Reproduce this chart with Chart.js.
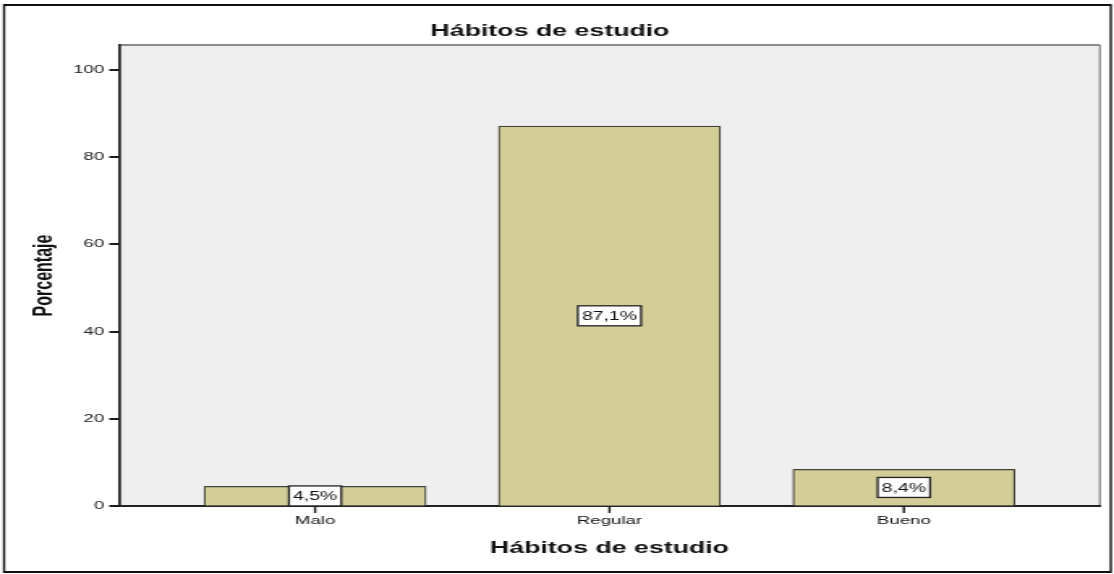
<!DOCTYPE html>
<html>
<head>
<meta charset="utf-8">
<script src="https://cdn.jsdelivr.net/npm/chart.js@4.4.0/dist/chart.umd.min.js"></script>
<style>
  body { margin: 0; background: #fff; overflow: hidden; }
  /* the reference is an SPSS chart stretched sideways, so draw narrow and stretch */
  #myChart { display: block; transform: scaleX(1.6192); transform-origin: 0 0; }
</style>
</head>
<body>
<canvas id="myChart" width="688" height="574"></canvas>
<script>
const categories = ["Malo", "Regular", "Bueno"];
const percentages = [4.5, 87.1, 8.4];
const yTicks = [0, 20, 40, 60, 80, 100];
const chartTitle = "Hábitos de estudio";
const xTitle = "Hábitos de estudio";
const yTitle = "Porcentaje";

const font = "'Liberation Sans', Arial, sans-serif";

// grey plot area + lighter top/right edges, black frame round the whole picture
const backdrop = {
  id: "backdrop",
  beforeDraw(chart) {
    const { ctx, chartArea: a } = chart;
    ctx.save();
    ctx.fillStyle = "#efefef";
    ctx.fillRect(a.left, a.top, a.right - a.left, a.bottom - a.top);
    ctx.strokeStyle = "#8a8a8a";
    ctx.lineWidth = 2;
    ctx.beginPath();
    ctx.moveTo(a.left, a.top);
    ctx.lineTo(a.right, a.top);
    ctx.stroke();
    ctx.lineWidth = 1.3;
    ctx.beginPath();
    ctx.moveTo(a.right, a.top);
    ctx.lineTo(a.right, a.bottom);
    ctx.stroke();
    ctx.strokeStyle = "#111";
    ctx.lineWidth = 2;
    ctx.beginPath();
    ctx.moveTo(2.5, 5);
    ctx.lineTo(686, 5);
    ctx.moveTo(2.5, 572);
    ctx.lineTo(686, 572);
    ctx.stroke();
    ctx.lineWidth = 1.4;
    ctx.beginPath();
    ctx.moveTo(2.5, 4);
    ctx.lineTo(2.5, 573);
    ctx.moveTo(686, 4);
    ctx.lineTo(686, 573);
    ctx.stroke();
    ctx.restore();
  }
};

// short tick marks outside the axes, placed through the scales
const tickMarks = {
  id: "tickMarks",
  afterDatasetsDraw(chart) {
    const { ctx, scales } = chart;
    const a = chart.chartArea;
    ctx.save();
    ctx.fillStyle = "#1a1a1a";
    yTicks.forEach(v => {
      const py = Math.round(scales.y.getPixelForValue(v));
      ctx.fillRect(a.left - 6, py - 1, 6, 2);
    });
    categories.forEach((c, i) => {
      const px = scales.x.getPixelForValue(i);
      ctx.fillRect(px - 0.7, a.bottom, 1.4, 7);
    });
    ctx.restore();
  }
};

// boxed value labels in the middle of each bar
const boxLabels = {
  id: "boxLabels",
  afterDatasetsDraw(chart) {
    const { ctx } = chart;
    const meta = chart.getDatasetMeta(0);
    ctx.save();
    ctx.font = "12px " + font;
    ctx.textAlign = "center";
    ctx.textBaseline = "middle";
    meta.data.forEach((bar, i) => {
      const text = percentages[i].toFixed(1).replace(".", ",") + "%";
      const w = ctx.measureText(text).width + 5;
      const h = 20;
      const cx = bar.x;
      const cy = (bar.y + bar.base) / 2;
      ctx.fillStyle = "#fff";
      ctx.fillRect(cx - w / 2, cy - h / 2, w, h);
      ctx.strokeStyle = "#222";
      ctx.lineWidth = 1.3;
      ctx.strokeRect(cx - w / 2, cy - h / 2, w, h);
      ctx.fillStyle = "#111";
      ctx.fillText(text, cx, cy + 1);
    });
    ctx.restore();
  }
};

const ctx = document.getElementById("myChart").getContext("2d");
const myChart = new Chart(ctx, {
  type: "bar",
  data: {
    datasets: [
      {
        data: categories.map((c, i) => ({ x: i, y: percentages[i] })),
        backgroundColor: "#d3ce98",
        borderColor: "#44443a",
        borderWidth: 1.2,
        barThickness: 137
      }
    ]
  },
  plugins: [backdrop, tickMarks, boxLabels],
  options: {
    responsive: false,
    animation: false,
    layout: { padding: { top: 0, right: 8.7, bottom: 0, left: 0 } },
    plugins: {
      legend: { display: false },
      tooltip: { enabled: false },
      title: {
        display: true,
        text: chartTitle,
        color: "#111",
        font: { family: font, size: 16.5, weight: "bold" },
        padding: { top: 21.1, bottom: 4.1 }
      }
    },
    scales: {
      x: {
        type: "linear",
        offset: false,
        min: -0.666,
        max: 2.666,
        afterBuildTicks: (scale) => {
          scale.ticks = categories.map((c, i) => ({ value: i }));
        },
        afterFit: (scale) => { scale.height = 68; },
        grid: {
          offset: false,
          drawOnChartArea: false,
          drawTicks: true,
          tickLength: 6,
          tickColor: "transparent"
        },
        border: { display: true, color: "#222", width: 2 },
        ticks: {
          color: "#111",
          padding: 2.4,
          maxRotation: 0,
          font: { family: font, size: 11.5 },
          callback: (v) => categories[v]
        },
        title: {
          display: true,
          text: xTitle,
          color: "#111",
          font: { family: font, size: 16.5, weight: "bold" },
          padding: { top: 0, bottom: 16 }
        }
      },
      y: {
        min: 0,
        max: 105.7,
        afterBuildTicks: (scale) => {
          scale.ticks = yTicks.map(v => ({ value: v }));
        },
        afterFit: (scale) => { scale.width = 73.5; },
        grid: {
          drawOnChartArea: false,
          drawTicks: true,
          tickLength: 5.5,
          tickColor: "transparent"
        },
        border: { display: true, color: "#222", width: 1.7 },
        ticks: {
          color: "#222",
          padding: 3.6,
          font: { family: font, size: 11.5 }
        },
        title: {
          display: true,
          text: yTitle,
          color: "#111",
          font: { family: font, size: 16, weight: "bold" },
          padding: { top: 18, bottom: 0 }
        }
      }
    }
  }
});
</script>
</body>
</html>
